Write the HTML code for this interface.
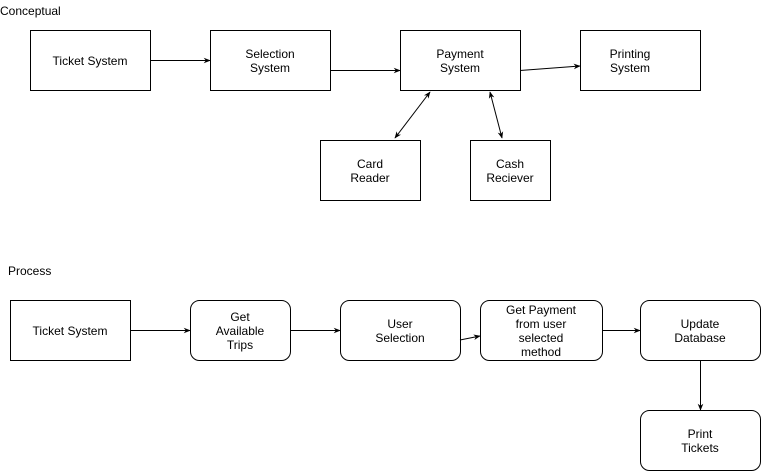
<!DOCTYPE html>
<html><head><style>html,body{margin:0;padding:0;background:#fff;}svg{display:block;}text{font-family:"Liberation Sans",Arial,sans-serif;font-size:12px;fill:#000;}</style></head>
<body>
<svg width="761" height="471" viewBox="0 0 761 471" xmlns="http://www.w3.org/2000/svg">
<defs>
<marker id="a" viewBox="0 0 10 10" refX="9" refY="5" markerWidth="7" markerHeight="7" orient="auto-start-reverse"><path d="M0,1 L10,5 L0,9 L3,5 Z" fill="#000"/></marker>
</defs>
<text x="0" y="15">Conceptual</text>
<text x="8" y="275">Process</text>
<g fill="#fff" stroke="#000" stroke-width="1">
<rect x="30.5" y="30.5" width="120" height="60"/>
<rect x="210.5" y="30.5" width="120" height="60"/>
<rect x="400.5" y="30.5" width="120" height="60"/>
<rect x="580.5" y="30.5" width="120" height="60"/>
<rect x="320.5" y="140.5" width="100" height="60"/>
<rect x="470.5" y="140.5" width="80" height="60"/>
<rect x="10.5" y="300.5" width="120" height="60"/>
<rect x="190.5" y="300.5" width="100" height="60" rx="9"/>
<rect x="340.5" y="300.5" width="120" height="60" rx="9"/>
<rect x="480.5" y="300.5" width="122" height="60" rx="9"/>
<rect x="640.5" y="300.5" width="120" height="60" rx="9"/>
<rect x="640.5" y="410.5" width="120" height="60" rx="9"/>
</g>
<g stroke="#000" stroke-width="1" fill="none">
<line x1="150" y1="60.5" x2="210" y2="60.5" marker-end="url(#a)"/>
<line x1="330" y1="70.5" x2="400" y2="70.5" marker-end="url(#a)"/>
<line x1="520" y1="70.5" x2="580" y2="66" marker-end="url(#a)"/>
<line x1="395" y1="138" x2="430" y2="92" marker-start="url(#a)" marker-end="url(#a)"/>
<line x1="490" y1="92" x2="502" y2="138" marker-start="url(#a)" marker-end="url(#a)"/>
<line x1="130" y1="330.5" x2="190" y2="330.5" marker-end="url(#a)"/>
<line x1="290" y1="330.5" x2="340" y2="330.5" marker-end="url(#a)"/>
<line x1="460" y1="340" x2="480" y2="336" marker-end="url(#a)"/>
<line x1="602" y1="330.5" x2="640" y2="330.5" marker-end="url(#a)"/>
<line x1="700.5" y1="360" x2="700.5" y2="410" marker-end="url(#a)"/>
</g>
<g text-anchor="middle">
<text x="90" y="65">Ticket System</text>
<text x="270" y="58">Selection</text><text x="270" y="72">System</text>
<text x="460" y="58">Payment</text><text x="460" y="72">System</text>
<text x="630" y="58">Printing</text><text x="630" y="72">System</text>
<text x="370" y="168">Card</text><text x="370" y="182">Reader</text>
<text x="510" y="168">Cash</text><text x="510" y="182">Reciever</text>
<text x="70" y="335">Ticket System</text>
<text x="240" y="321">Get</text><text x="240" y="335">Available</text><text x="240" y="349">Trips</text>
<text x="400" y="328">User</text><text x="400" y="342">Selection</text>
<text x="541" y="314">Get Payment</text><text x="541" y="328">from user</text><text x="541" y="342">selected</text><text x="541" y="356">method</text>
<text x="700" y="328">Update</text><text x="700" y="342">Database</text>
<text x="700" y="438">Print</text><text x="700" y="452">Tickets</text>
</g>
</svg>
</body></html>
